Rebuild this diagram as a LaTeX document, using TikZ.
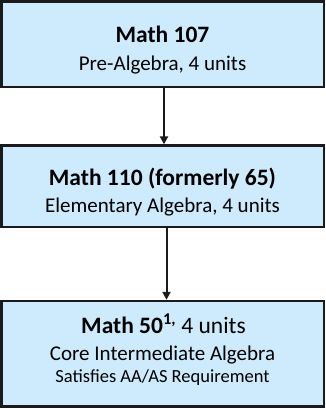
\documentclass[tikz,border=0pt]{standalone}
\usepackage{fontspec}
\setmainfont{Carlito}
\usetikzlibrary{arrows.meta}
\definecolor{boxfill}{HTML}{CDEBFC}
\definecolor{boxline}{HTML}{1A1A1A}
\tikzset{
  x=1pt,y=1pt,
  box/.style={draw=boxline,fill=boxfill,line width=2.5pt},
  ttl/.style={anchor=base,inner sep=0pt,font=\fontsize{23.5}{26}\selectfont\bfseries},
  sub/.style={anchor=base,inner sep=0pt,font=\fontsize{21}{24}\selectfont},
  small/.style={anchor=base,inner sep=0pt,font=\fontsize{18.5}{20}\selectfont},
  conn/.style={line width=2pt,draw=boxline,-{Triangle[width=8pt,length=8pt]}}
}
\begin{document}
\begin{tikzpicture}
\useasboundingbox (0,0) rectangle (325,-408);
\draw[box] (1.25,-1.25) rectangle (323.75,-87);
\draw[box] (1.25,-145.5) rectangle (323.75,-227);
\draw[box] (1.25,-301) rectangle (323.75,-406.5);
\coordinate (b1s) at (164,-88.2);
\coordinate (b2n) at (164,-144.3);
\coordinate (b2s) at (166.5,-228.2);
\coordinate (b3n) at (166.5,-299.8);
\node[ttl] (t1) at (162.5,-42.7) {Math 107};
\node[sub] (s1) at (162.5,-70) {Pre-Algebra, 4 units};
\node[ttl] (t2) at (162.5,-185) {Math 110 (formerly 65)};
\node[sub] (s2) at (162.5,-212.7) {Elementary Algebra, 4 units};
\node[ttl] (t3) at (163.5,-333.3) {Math 50\textsuperscript{1,}\mdseries\ 4 units};
\node[sub] (s3) at (162.5,-360) {Core Intermediate Algebra};
\node[small] (r3) at (162.5,-382.3) {Satisfies AA/AS Requirement};
\draw[conn] (b1s) -- (b2n);
\draw[conn] (b2s) -- (b3n);
\end{tikzpicture}
\end{document}
